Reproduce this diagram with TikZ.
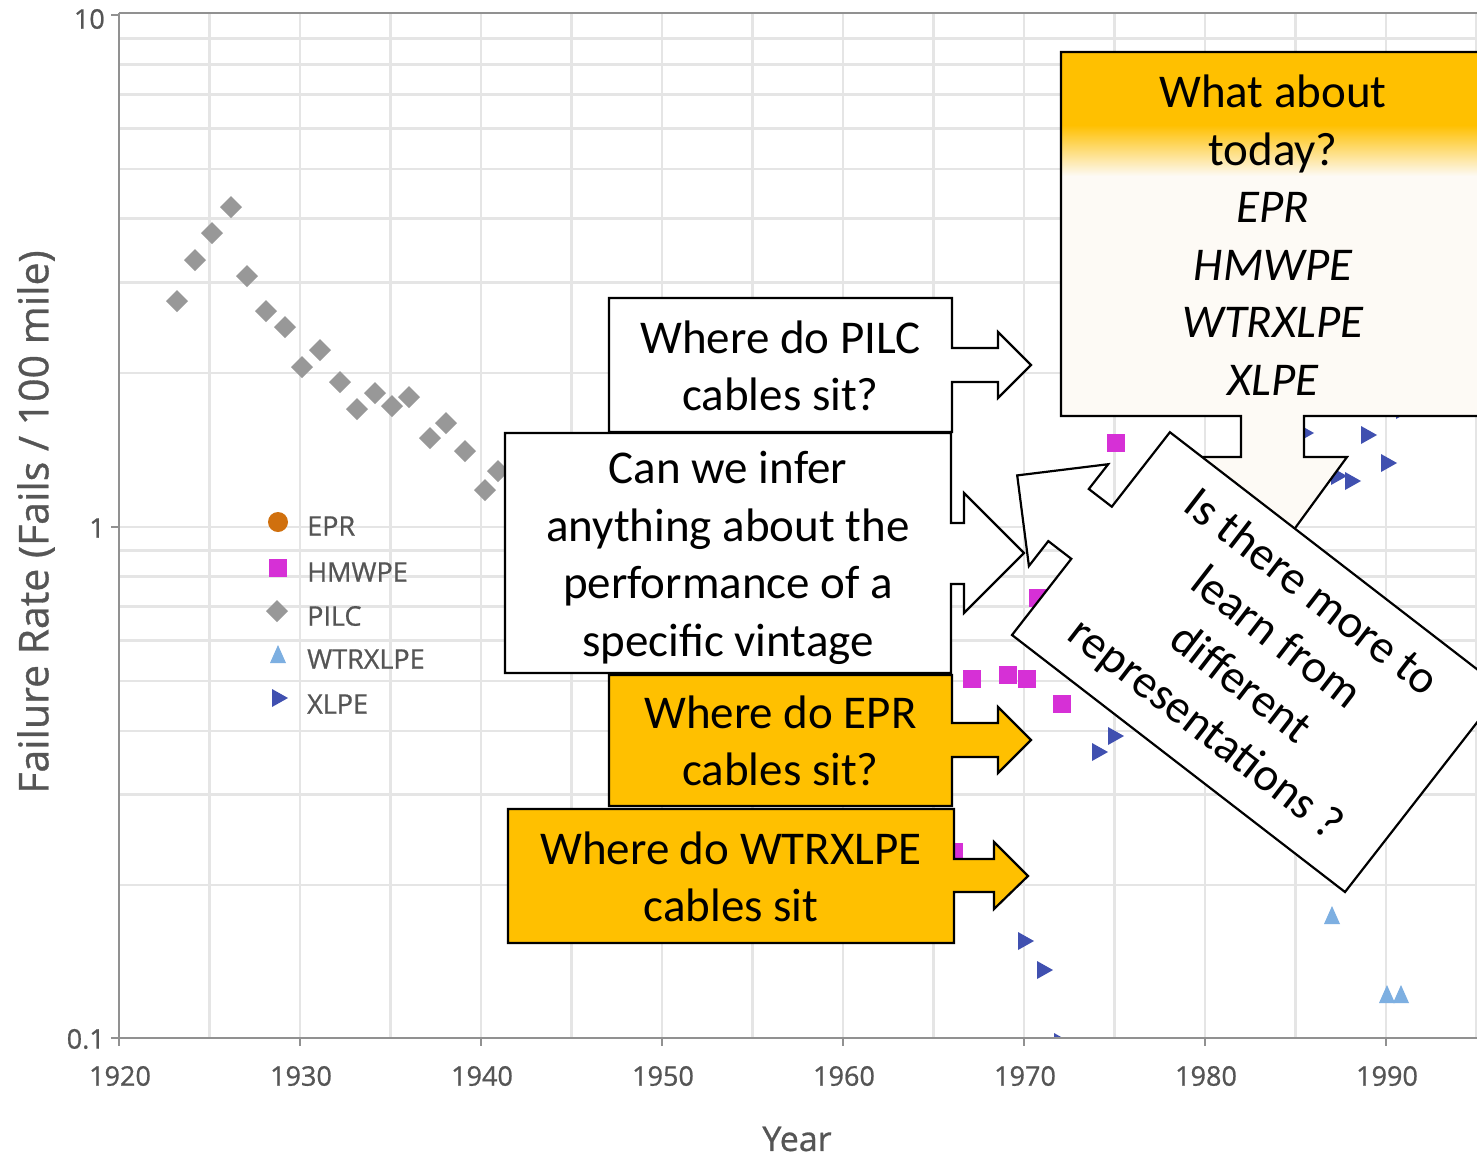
\documentclass[tikz,border=0pt]{standalone}
\usepackage{fontspec}
\setmainfont{Carlito}
\newfontfamily\chartfont[FakeBold=0.8]{Open Sans}
\definecolor{qorange}{RGB}{255,192,0}
\definecolor{qcream}{RGB}{253,250,245}
\definecolor{gridc}{RGB}{229,229,229}
\definecolor{axisc}{RGB}{145,145,145}
\definecolor{chartgray}{RGB}{85,85,85}
\definecolor{pilcc}{RGB}{152,152,152}
\definecolor{hmwpec}{RGB}{214,48,214}
\definecolor{xlpec}{RGB}{64,80,176}
\definecolor{wtrc}{RGB}{125,175,225}
\definecolor{eprc}{RGB}{208,112,14}
\tikzset{
  gridline/.style={draw=gridc, line width=2.5},
  axisline/.style={draw=axisc, line width=2.5},
  callout/.style={draw=black, line width=2.2, line join=miter},
  qtext/.style={font=\fontsize{47}{57.5}\selectfont, align=center, inner sep=0},
  ticklab/.style={font=\chartfont\fontsize{27}{27}\selectfont, text=chartgray, inner sep=0},
  leglab/.style={font=\chartfont\fontsize{27}{27}\selectfont, text=chartgray, inner sep=0, anchor=west},
  pilcmark/.pic={\fill[pilcc] (0,-11) -- (11,0) -- (0,11) -- (-11,0) -- cycle;},
  hmwpemark/.pic={\fill[hmwpec] (-9,-9) rectangle (9,9);},
  xlpemark/.pic={\fill[xlpec] (-7,-9) -- (9,0) -- (-7,9) -- cycle;},
  wtrmark/.pic={\fill[wtrc] (-8,8) -- (8,8) -- (0,-10) -- cycle;},
}
\begin{document}
\begin{tikzpicture}[x=1pt,y=-1pt]
\useasboundingbox (0,0) rectangle (1477,1157);
\clip (0,0) rectangle (1477,1157);
\fill[white] (0,0) rectangle (1477,1157);

% grid
\begin{scope}
\clip (119,13) rectangle (1477,1038);
\foreach \k in {1,...,15} \draw[gridline] ({119+90.5*\k},13) -- ({119+90.5*\k},1038);
\foreach \m in {2,...,9} {
  \pgfmathsetmacro\ya{1039-512*ln(\m)/ln(10)}
  \pgfmathsetmacro\yb{527-512*ln(\m)/ln(10)}
  \draw[gridline] (119,\ya) -- (1477,\ya);
  \draw[gridline] (119,\yb) -- (1477,\yb);
}
\draw[gridline] (119,527) -- (1477,527);

% data
\foreach \x/\y in {177/301,195/260,212/233,231/207,247/276,266/311,285/327,302/367,320/350,340/382,357/409,375/393,392/406,409/397,430/438,446/423,465/451,485/490,498/471}
  \pic at (\x,\y) {pilcmark};
\foreach \x/\y in {1116/443,1038/598,972/679,1008/675,1027/679,1062/704,954/852,986/731,1240/60,1384/60}
  \pic at (\x,\y) {hmwpemark};
\foreach \x/\y in {1099/752,1115/736,1025/941,1044/970,1061/1042,1368/435,1388/463,1352/481,1338/476,1305/433,1403/410}
  \pic at (\x,\y) {xlpemark};
\foreach \x/\y in {1332/916,1387/995,1401/995}
  \pic at (\x,\y) {wtrmark};
\end{scope}

% axes
\draw[axisline] (119,13) -- (1477,13);
\draw[axisline] (119,13) -- (119,1038) -- (1477,1038);
\foreach \y in {15,527,1038} \draw[axisline] (111,\y) -- (119,\y);
\foreach \k in {0,...,7} \draw[axisline] ({119+181*\k},1038) -- ({119+181*\k},1046);

% tick labels
\node[ticklab, anchor=east] (ty10) at (105,19) {10};
\node[ticklab, anchor=east] (ty1) at (105,528) {1};
\node[ticklab, anchor=east] (ty01) at (105,1039) {0.1};
\foreach \k/\yr in {0/1920,1/1930,2/1940,3/1950,4/1960,5/1970,6/1980,7/1990}
  \node[ticklab] (tx\yr) at ({120+181*\k},1076) {\yr};
\node[font=\chartfont\fontsize{34}{34}\selectfont, text=chartgray, inner sep=0] (xlabel) at (797,1139) {Year};
\node[font=\chartfont\fontsize{41}{41}\selectfont, text=chartgray, inner sep=0, rotate=90] (ylabel) at (36,522) {Failure Rate (Fails / 100 mile)};

% legend
\fill[eprc] (278,522) circle (10);
\pic at (278,568) {hmwpemark};
\pic at (277,611) {pilcmark};
\pic at (278,655) {wtrmark};
\pic at (279,698) {xlpemark};
\node[leglab] (lepr) at (307,526) {EPR};
\node[leglab] (lhm) at (307,572) {HMWPE};
\node[leglab] (lpilc) at (307,616) {PILC};
\node[leglab] (lwtr) at (307,659) {WTRXLPE};
\node[leglab] (lxlpe) at (307,704) {XLPE};

% PILC callout
\draw[callout, fill=white] (609,298) -- (952,298) -- (952,348) -- (998,348) -- (998,332) -- (1031,365)
  -- (998,398) -- (998,382) -- (952,382) -- (952,432) -- (609,432) -- cycle;
\node[qtext] (qpilc) at (780.5,366) {Where do PILC\\cables sit?};

% Can we infer callout
\draw[callout, fill=white] (505,433) -- (951,433) -- (951,523) -- (964,523) -- (964,493) -- (1024,553)
  -- (964,613) -- (964,584) -- (951,584) -- (951,673) -- (505,673) -- cycle;
\node[qtext] (qinfer) at (728,558) {Can we infer\\anything about the\\performance of a\\specific vintage};

% EPR callout
\draw[callout, fill=qorange] (609,675) -- (952,675) -- (952,723) -- (998,723) -- (998,707) -- (1031,740)
  -- (998,773) -- (998,757) -- (952,757) -- (952,806) -- (609,806) -- cycle;
\node[qtext] (qepr) at (780.5,741) {Where do EPR\\cables sit?};

% WTRXLPE callout
\draw[callout, fill=qorange] (508,809) -- (954,809) -- (954,859) -- (994,859) -- (994,842) -- (1028,876)
  -- (994,909) -- (994,892) -- (954,892) -- (954,943) -- (508,943) -- cycle;
\node[qtext] (qwtr) at (731,877) {Where do WTRXLPE\\cables sit};

% What about today callout
\begin{scope}
\clip (1061,52) -- (1490,52) -- (1490,416) -- (1304,416) -- (1304,457) -- (1347,457) -- (1272.5,559)
  -- (1198,457) -- (1241,457) -- (1241,416) -- (1061,416) -- cycle;
\fill[qcream] (1061,52) rectangle (1490,560);
\fill[qorange] (1061,52) rectangle (1490,126);
\shade[top color=qorange, bottom color=qcream] (1061,125) rectangle (1490,176);
\end{scope}
\draw[callout] (1061,52) -- (1490,52) -- (1490,416) -- (1304,416) -- (1304,457) -- (1347,457) -- (1272.5,559)
  -- (1198,457) -- (1241,457) -- (1241,416) -- (1061,416) -- cycle;
\node[qtext] (qtoday) at (1273,235) {What about\\today?\\\itshape EPR\\\itshape HMWPE\\\itshape WTRXLPE\\\itshape XLPE};

% rotated callout
\draw[callout, fill=white] (1012,635) -- (1071.3,558.8) -- (1048.3,541.1) -- (1028.9,566.0) -- (1017.2,475.4)
  -- (1108.2,464.2) -- (1088.8,489.0) -- (1111.8,506.7) -- (1169.9,432.2) -- (1502.9,689.2) -- (1345,892) -- cycle;
\node[qtext, rotate=-37.7] (qmore) at (1257.5,662) {Is there more to\\learn from\\different\\representations ?};
\end{tikzpicture}
\end{document}
